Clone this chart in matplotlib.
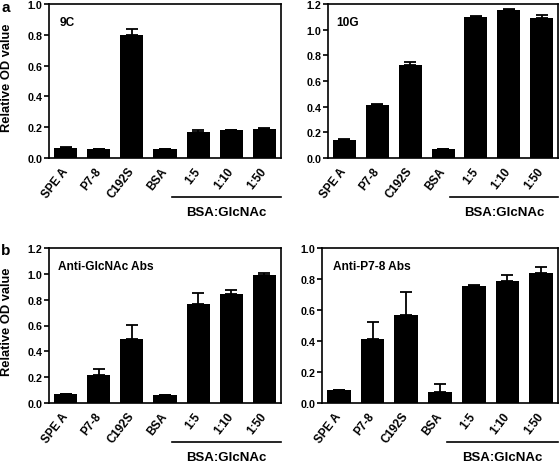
import matplotlib
matplotlib.use("Agg")
import matplotlib.pyplot as plt
from matplotlib.transforms import blended_transform_factory, ScaledTranslation

plt.rcParams['font.family'] = ['Liberation Sans', 'DejaVu Sans']
plt.rcParams['font.weight'] = 'bold'

categories = ["SPE A", "P7-8", "C192S", "BSA", "1:5", "1:10", "1:50"]
group_label = "BSA:GlcNAc"

titles = ["9C", "10G", "Anti-GlcNAc Abs", "Anti-P7-8 Abs"]
vals_9c = [0.067, 0.060, 0.800, 0.060, 0.166, 0.179, 0.188]
err_9c = [0.005, 0.0, 0.035, 0.0, 0.014, 0.004, 0.010]
vals_10g = [0.137, 0.415, 0.728, 0.070, 1.099, 1.156, 1.094]
err_10g = [0.012, 0.006, 0.018, 0.0, 0.010, 0.008, 0.020]
vals_glc = [0.067, 0.219, 0.495, 0.059, 0.766, 0.846, 0.994]
err_glc = [0.0, 0.044, 0.111, 0.0, 0.086, 0.026, 0.015]
vals_p78 = [0.086, 0.410, 0.570, 0.071, 0.754, 0.788, 0.836]
err_p78 = [0.0, 0.113, 0.143, 0.054, 0.008, 0.035, 0.039]

yticks_a1 = [0.0, 0.2, 0.4, 0.6, 0.8, 1.0]
yticks_a2 = [0.0, 0.2, 0.4, 0.6, 0.8, 1.0, 1.2]
yticks_b1 = [0.0, 0.2, 0.4, 0.6, 0.8, 1.0, 1.2]
yticks_b2 = [0.0, 0.2, 0.4, 0.6, 0.8, 1.0]

W, H = 560, 464
fig = plt.figure(figsize=(W / 100, H / 100), dpi=100)

def px_axes(left, top, right, bottom):
    return fig.add_axes([left / W, (H - bottom) / H, (right - left) / W, (bottom - top) / H])

panels = [
    (px_axes(49, 5, 281, 159), vals_9c, err_9c, yticks_a1, titles[0], True, 0.047),
    (px_axes(328, 5, 558, 159), vals_10g, err_10g, yticks_a2, titles[1], False, 0.035),
    (px_axes(49, 249, 281, 404), vals_glc, err_glc, yticks_b1, titles[2], True, 0.04),
    (px_axes(322, 249, 558, 404), vals_p78, err_p78, yticks_b2, titles[3], False, 0.047),
]

x = list(range(len(categories)))
for ax, vals, errs, yt, title, ylab, tx in panels:
    ax.bar(x, vals, width=0.7, color='black', zorder=2)
    ax.errorbar(x, vals, yerr=[[0] * len(errs), errs], fmt='none', ecolor='black',
                elinewidth=1.3, capsize=4, capthick=1.3, zorder=1)
    ax.set_xlim(-0.5, len(categories) - 0.5)
    ax.set_ylim(yt[0], yt[-1])
    ax.set_yticks(yt)
    ax.set_yticklabels([f"{v:.1f}" for v in yt], fontsize=7.7, fontweight='bold')
    ax.set_xticks(x)
    labels = ax.set_xticklabels(categories, rotation=52, ha='right', va='center',
                                rotation_mode='anchor', fontsize=8.4, fontweight='bold')
    off = ScaledTranslation(3 / 100, 0, fig.dpi_scale_trans)
    for lab in labels:
        lab.set_transform(lab.get_transform() + off)
    ax.tick_params(axis='x', length=0, pad=7.5)
    ax.tick_params(axis='y', length=3.3, width=1.2, direction='out', pad=1.5)
    for s in ax.spines.values():
        s.set_linewidth(1.2)
    ax.text(tx, 0.925, title, transform=ax.transAxes, ha='left', va='top',
            fontsize=8.6, fontweight='bold')
    if ylab:
        ax.set_ylabel("Relative OD value", fontsize=9.3, fontweight='bold')
        ax.yaxis.set_label_coords(-0.155, 0.53)
    tr = blended_transform_factory(ax.transData, ax.transAxes)
    ax.plot([3.22, 6.5], [-0.25, -0.25], transform=tr, color='black', lw=1.2, clip_on=False)
    ax.text(4.86, -0.31, group_label, transform=tr, ha='center', va='top',
            fontsize=9.5, fontweight='bold')

fig.text(1 / W, 1 - 12 / H, "a", ha='left', va='baseline', fontsize=11, fontweight='bold')
fig.text(1 / W, 1 - 255 / H, "b", ha='left', va='baseline', fontsize=11, fontweight='bold')

fig.savefig("out.png", dpi=100)
